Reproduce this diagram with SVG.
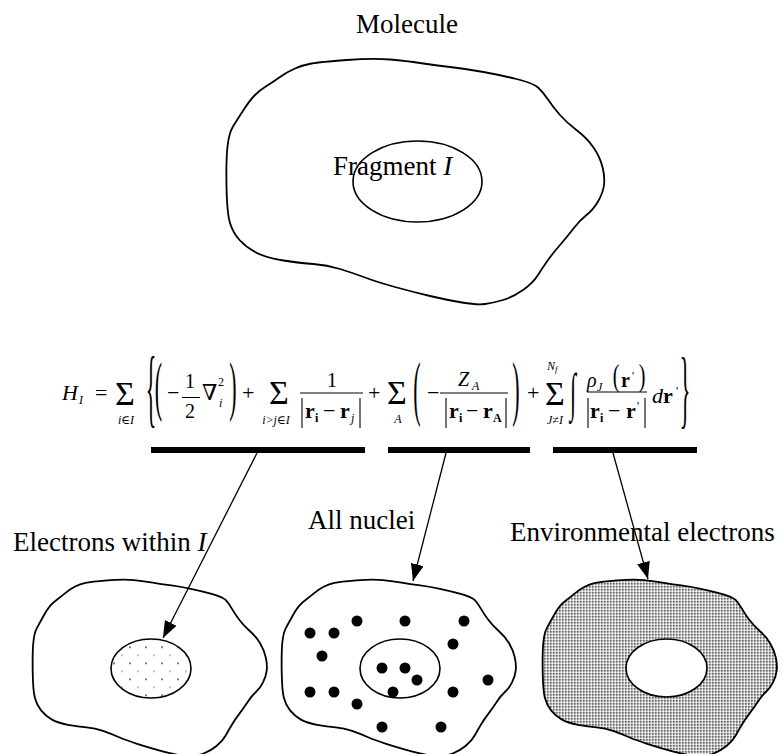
<svg xmlns="http://www.w3.org/2000/svg" xmlns:xlink="http://www.w3.org/1999/xlink" width="783" height="754" viewBox="0 0 783 754">
<style>
.lbl{font-family:"Liberation Serif","Times New Roman",serif;font-size:27px;fill:#000}
.m{font-family:"Liberation Serif","DejaVu Serif",serif;font-size:22px;fill:#000}
.s{font-size:12px}
.n{font-size:20px}
.sig{font-size:34px}
.i{font-style:italic}
.b{font-weight:bold}
.c{text-anchor:middle}
.blob{stroke:#000;stroke-width:1.8;stroke-linejoin:round}
.ell{stroke:#000;stroke-width:1.6}
.bar{fill:#000}
.frac{stroke:#000;stroke-width:1}
.abs{stroke:#000;stroke-width:1.1}
.conn{stroke:#000;stroke-width:1.3;fill:none}
</style>
<defs>
<pattern id="sparse" patternUnits="userSpaceOnUse" x="126" y="643.3" width="16" height="16">
<circle cx="4" cy="4" r="1" fill="#555"/>
<rect x="11" y="11.5" width="2" height="1" fill="#888"/>
</pattern>
<pattern id="dense" patternUnits="userSpaceOnUse" width="4.84" height="4.17">
<rect width="4.84" height="4.17" fill="#fff"/>
<ellipse cx="2.42" cy="2.08" rx="1.75" ry="1.5" fill="#666"/>
</pattern>
<path id="blobB" vector-effect="non-scaling-stroke" transform="scale(0.62,0.72) translate(-227,-58)" d="M311.5,63.5 Q320,62 346.5,60 Q373,58 390,59.5 Q407,61 420,63 Q433,65 450,67 Q467,69 483.5,72 Q500,75 516.5,79 Q533,83 538,87.5 Q543,92 548,99.5 Q553,107 560,115 Q567,123 577,130.5 Q587,138 593.5,147.5 Q600,157 602.5,167 Q605,177 604,185 Q603,193 598,201.5 Q593,210 586.5,215 Q580,220 573.5,228.5 Q567,237 560,245 Q553,253 548,260 Q543,267 538,275 Q533,283 523,290 Q513,297 503,300 Q493,303 485,304 Q477,305 462,302.5 Q447,300 430,296 Q413,292 395,287 Q377,282 365,277.5 Q353,273 340,269 Q327,265 313.5,264 Q300,263 283.5,260.5 Q267,258 257,253 Q247,248 240,240.5 Q233,233 230,223 Q227,213 226.5,186.5 Q226,160 227.5,146.5 Q229,133 233,126.5 Q237,120 243.5,110 Q250,100 255,95 Q260,90 266.5,86 Q273,82 280,77 Q287,72 295,68.5 Q303,65 311.5,63.5 Z"/>
<marker id="ah" viewBox="0 0 17 13" refX="17" refY="6.5" markerWidth="17" markerHeight="13" markerUnits="userSpaceOnUse" orient="auto">
<path d="M0,0 L17,6.5 L0,13 Z" fill="#000"/>
</marker>
</defs>

<g id="molecule">
<text class="lbl" x="356" y="33">Molecule</text>
<path class="blob" fill="none" d="M311.5,63.5 Q320,62 346.5,60 Q373,58 390,59.5 Q407,61 420,63 Q433,65 450,67 Q467,69 483.5,72 Q500,75 516.5,79 Q533,83 538,87.5 Q543,92 548,99.5 Q553,107 560,115 Q567,123 577,130.5 Q587,138 593.5,147.5 Q600,157 602.5,167 Q605,177 604,185 Q603,193 598,201.5 Q593,210 586.5,215 Q580,220 573.5,228.5 Q567,237 560,245 Q553,253 548,260 Q543,267 538,275 Q533,283 523,290 Q513,297 503,300 Q493,303 485,304 Q477,305 462,302.5 Q447,300 430,296 Q413,292 395,287 Q377,282 365,277.5 Q353,273 340,269 Q327,265 313.5,264 Q300,263 283.5,260.5 Q267,258 257,253 Q247,248 240,240.5 Q233,233 230,223 Q227,213 226.5,186.5 Q226,160 227.5,146.5 Q229,133 233,126.5 Q237,120 243.5,110 Q250,100 255,95 Q260,90 266.5,86 Q273,82 280,77 Q287,72 295,68.5 Q303,65 311.5,63.5 Z"/>
<ellipse class="ell" fill="none" cx="417.5" cy="181.5" rx="64.5" ry="40.5"/>
<text class="lbl" x="333" y="175">Fragment <tspan font-style="italic">I</tspan></text>
</g>

<g id="formula">
<text class="m i" x="62" y="400">H</text>
<text class="m i s" x="79" y="404">I</text>
<text class="m" x="95" y="400">=</text>
<text class="m sig c" x="125" y="405">Σ</text>
<text class="m i s c" x="126" y="424">i∈I</text>
<text class="m c" transform="translate(151,394.5) scale(1,3.9)" y="5.5">{</text>
<text class="m c" transform="translate(158.5,392) scale(1,3)" y="5.3">(</text>
<text class="m" x="167" y="400">−</text>
<text class="m n c" x="190" y="388">1</text>
<line class="frac" x1="182" y1="397.5" x2="200" y2="397.5"/>
<text class="m n c" x="190" y="418">2</text>
<text class="m" x="202" y="400">∇</text>
<text class="m s" x="218" y="386">2</text>
<text class="m i s" x="219" y="407">i</text>
<text class="m c" transform="translate(233,392) scale(1,3)" y="5.3">)</text>
<text class="m" x="242" y="400">+</text>
<text class="m sig c" x="279" y="404">Σ</text>
<text class="m i s c" x="276" y="424">i&gt;j∈I</text>
<text class="m n c" x="332" y="387">1</text>
<line class="frac" x1="300" y1="393" x2="363" y2="393"/>
<line class="abs" x1="302" y1="398" x2="302" y2="428"/>
<text class="m b" x="305" y="418">r</text>
<text class="m b s" x="315" y="422">i</text>
<text class="m" x="323" y="418">−</text>
<text class="m b" x="340" y="418">r</text>
<text class="m i s" x="351" y="422">j</text>
<line class="abs" x1="360" y1="398" x2="360" y2="428"/>
<text class="m" x="368" y="400">+</text>
<text class="m sig c" x="397" y="404">Σ</text>
<text class="m i s c" x="398" y="423">A</text>
<text class="m c" transform="translate(417,394.5) scale(1,3.25)" y="5.3">(</text>
<text class="m" x="427" y="400">−</text>
<text class="m n i" x="458" y="386">Z</text>
<text class="m i s" x="472" y="390">A</text>
<line class="frac" x1="440" y1="393" x2="508" y2="393"/>
<line class="abs" x1="446" y1="398" x2="446" y2="428"/>
<text class="m b" x="449" y="418">r</text>
<text class="m b s" x="459" y="422">i</text>
<text class="m" x="466" y="418">−</text>
<text class="m b" x="483" y="418">r</text>
<text class="m b s" x="493" y="422">A</text>
<line class="abs" x1="506" y1="398" x2="506" y2="428"/>
<text class="m c" transform="translate(516,394.5) scale(1,3.25)" y="5.3">)</text>
<text class="m" x="527" y="400">+</text>
<text class="m i s" x="547" y="370">N<tspan font-size="9" dy="2">f</tspan></text>
<text class="m sig c" x="555" y="405">Σ</text>
<text class="m i s c" x="555" y="424">J≠I</text>
<text class="m c" transform="translate(573,394) scale(1,2.4)" y="6.6">∫</text>
<text class="m n i" x="587" y="387">ρ</text>
<text class="m i s" x="597" y="391">J</text>
<text class="m n c" transform="translate(616,378) scale(1,1.6)" y="4.8">(</text>
<text class="m n b" x="621" y="387">r</text>
<text class="m s" x="632" y="380">'</text>
<text class="m n c" transform="translate(642,378) scale(1,1.6)" y="4.8">)</text>
<line class="frac" x1="587" y1="392" x2="647" y2="392"/>
<line class="abs" x1="588" y1="398" x2="588" y2="428"/>
<text class="m b" x="590" y="418">r</text>
<text class="m b s" x="600" y="422">i</text>
<text class="m" x="608" y="418">−</text>
<text class="m b" x="626" y="418">r</text>
<text class="m s" x="637" y="410">'</text>
<line class="abs" x1="645" y1="398" x2="645" y2="428"/>
<text class="m i" x="652" y="403">d</text>
<text class="m b" x="663" y="403">r</text>
<text class="m s" x="676" y="395">'</text>
<text class="m c" transform="translate(685,396) scale(1,3.9)" y="5.5">}</text>
</g>

<g id="bars">
<rect class="bar" x="151" y="447" width="214" height="6"/>
<rect class="bar" x="388" y="447" width="142" height="6"/>
<rect class="bar" x="553" y="447" width="144" height="6"/>
</g>

<g id="electrons-within">
<text class="lbl" x="13" y="551">Electrons within <tspan font-style="italic">I</tspan></text>
<use xlink:href="#blobB" class="blob" fill="none" transform="translate(33,579)"/>
<ellipse class="ell" fill="url(#sparse)" cx="151" cy="668.5" rx="40" ry="29.5"/>
</g>

<g id="all-nuclei">
<text class="lbl" x="308" y="529">All nuclei</text>
<use xlink:href="#blobB" class="blob" fill="none" transform="translate(282,579)"/>
<ellipse class="ell" fill="none" cx="400" cy="668.5" rx="40" ry="29.5"/>
<g fill="#000">
<circle cx="310" cy="633" r="5.5"/><circle cx="334" cy="633" r="5.5"/><circle cx="357" cy="621" r="5.5"/>
<circle cx="405" cy="621" r="5.5"/><circle cx="464" cy="621" r="5.5"/><circle cx="453" cy="644" r="5.5"/>
<circle cx="322" cy="656" r="5.5"/><circle cx="382" cy="668" r="5.5"/><circle cx="405" cy="668" r="5.5"/>
<circle cx="417" cy="680" r="5.5"/><circle cx="393" cy="692" r="5.5"/><circle cx="310" cy="692" r="5.5"/>
<circle cx="334" cy="692" r="5.5"/><circle cx="357" cy="704" r="5.5"/><circle cx="453" cy="692" r="5.5"/>
<circle cx="488" cy="680" r="5.5"/><circle cx="382" cy="727" r="5.5"/><circle cx="441" cy="727" r="5.5"/>
</g>
</g>

<g id="environmental">
<text class="lbl" x="510" y="541">Environmental electrons</text>
<use xlink:href="#blobB" class="blob" fill="url(#dense)" transform="translate(543,579)"/>
<ellipse class="ell" fill="#fff" cx="666.5" cy="668" rx="40.5" ry="29"/>
</g>

<g id="connectors">
<line class="conn" x1="257" y1="453" x2="163" y2="638" marker-end="url(#ah)"/>
<line class="conn" x1="446" y1="453" x2="413" y2="581" marker-end="url(#ah)"/>
<line class="conn" x1="613" y1="453" x2="648" y2="579" marker-end="url(#ah)"/>
</g>
</svg>
